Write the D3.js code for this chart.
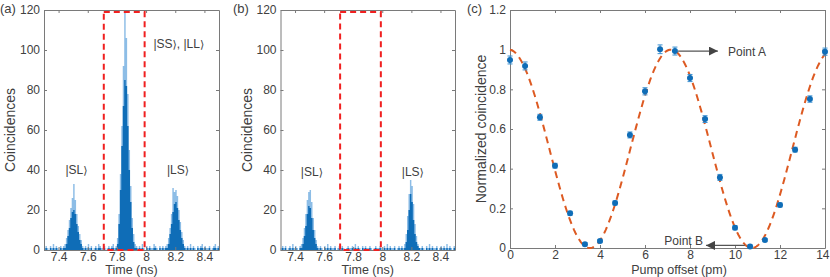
<!DOCTYPE html>
<html><head><meta charset="utf-8">
<script src="https://cdn.jsdelivr.net/npm/d3@7"></script>
<style>
body{margin:0;background:#fff}
text{font-family:"Liberation Sans",Arial,Helvetica,sans-serif}
</style>
</head><body>
<svg id="chart" width="830" height="277"></svg>
<script>
// ---------------- DATA ----------------
// Histogram bins (ns): bin i spans [binStart + i*binWidth, binStart + (i+1)*binWidth)
const binStart = 7.30;
const binWidth = 0.01;
const timeTicks = [7.4, 7.6, 7.8, 8.0, 8.2, 8.4];
const countTicks = [0, 20, 40, 60, 80, 100, 120];

// Panel (a): spiky upper envelope (light) and dense body (dark)
const countsLightA = [
  1,2,1,0,2,1,3,1,2,1,0,2,1,2,
  3,6,10,15,21,26,33,25,18,12,8,5,2,
  1,2,1,3,1,2,0,1,2,1,3,2,1,1,2,0,1,2,1,2,3,1,2,
  6,18,38,62,92,120,106,78,50,32,16,8,3,
  2,1,2,1,3,1,0,2,1,2,1,1,3,2,1,0,2,1,2,1,2,
  3,6,11,18,31,29,30,27,20,14,9,5,2,
  1,2,1,3,1,2,1,0,2,1,2,3,1,2,1,1,2,0,1,2,3,1,2
];
const countsDarkA = [
  0,1,0,0,1,0,1,0,1,0,0,1,0,1,
  1,3,7,11,16,19,20,18,13,9,5,3,1,
  0,1,0,1,0,1,0,0,1,0,1,1,0,0,1,0,0,1,0,1,1,0,1,
  3,13,30,52,72,85,82,62,40,24,11,4,1,
  1,0,1,0,1,0,0,1,0,1,0,0,1,1,0,0,1,0,1,0,1,
  1,3,8,13,19,23,24,21,15,10,6,3,1,
  0,1,0,1,0,1,0,0,1,0,1,1,0,1,0,0,1,0,0,1,1,0,1
];
// Panel (b)
const countsLightB = [
  1,2,1,2,0,1,2,1,3,1,2,1,0,2,
  3,6,11,18,25,29,30,24,16,10,5,2,
  1,2,1,0,2,1,3,1,2,1, 1,2,0,1,2,1,2,1,0,1, 2,1,1,2,1,3,1,2,1,0,
  2,1,2,1,1,2,1,0,1,2, 1,1,2,1,0,2,1,3,1,2, 1,1,2,0,1,2,1,2,1,
  3,8,17,28,35,32,23,13,7,3,1,
  1,2,1,0,2,1,3,1,2,1,1,2,0,1,2,1,2,1,3,1,2,1,0,2
];
const countsDarkB = [
  0,1,0,1,0,0,1,0,1,0,1,0,0,1,
  1,3,7,12,18,22,21,16,10,6,3,1,
  0,1,0,0,1,0,1,0,1,0, 0,1,0,0,1,0,1,0,0,0, 1,0,0,1,0,1,0,1,0,0,
  1,0,1,0,0,1,0,0,0,1, 0,0,1,0,0,1,0,1,0,1, 0,0,1,0,0,1,0,1,0,
  1,4,10,20,28,24,15,8,4,2,1,
  0,1,0,0,1,0,1,0,1,0,0,1,0,0,1,0,1,0,1,0,1,0,0,1
];
// Post-selection window (ns) and its height (counts)
const windowRange = [7.71, 7.99];
const windowTop = 119;

// Panel (c)
const pumpOffset = [0, 0.67, 1.33, 2, 2.67, 3.33, 4, 4.67, 5.33, 6, 6.67, 7.33, 8, 8.67, 9.33, 10, 10.67, 11.33, 12, 12.67, 13.33, 14];
const normCoinc  = [0.948, 0.918, 0.659, 0.415, 0.175, 0.019, 0.035, 0.227, 0.57, 0.79, 1.002, 0.993, 0.857, 0.65, 0.356, 0.102, 0.007, 0.04, 0.217, 0.496, 0.751, 0.99];
const normErr    = [0.02, 0.02, 0.015, 0.012, 0.01, 0.008, 0.008, 0.01, 0.015, 0.018, 0.022, 0.02, 0.018, 0.017, 0.015, 0.01, 0.008, 0.008, 0.01, 0.012, 0.016, 0.018];
const pumpTicks = [0, 2, 4, 6, 8, 10, 12, 14];
const normTicks = [0, 0.2, 0.4, 0.6, 0.8, 1.0, 1.2];
// Cosine fit: [offset, amplitude, period (pm), peak position (pm)]
const fitParams = [0.5, 0.5, 7.2, 7.15];

// ---------------- DRAW ----------------
const svg = d3.select("#chart");
const AX = "#7a7a7a", TX = "#404040";
const fmt1 = d => String(+d.toFixed(1));

function frame(g, x, y, xt, yt) {
  const [y0, y1] = y.range();
  const [x0, x1] = x.range();
  const st = s => { s.select(".domain").attr("stroke", AX); s.selectAll(".tick line").attr("stroke", AX);
    s.selectAll("text").attr("fill", TX).style("font-size", "12px"); };
  const bx = g.append("g").attr("transform", `translate(0,${y0})`)
    .call(d3.axisBottom(x).tickValues(xt).tickSizeInner(-3).tickSizeOuter(0).tickPadding(2).tickFormat(fmt1)).call(st);
  g.append("g").attr("transform", `translate(0,${y1})`)
    .call(d3.axisTop(x).tickValues(xt).tickSizeInner(-3).tickSizeOuter(0).tickFormat("")).call(st);
  g.append("g").attr("transform", `translate(${x0},0)`)
    .call(d3.axisLeft(y).tickValues(yt).tickSizeInner(-3).tickSizeOuter(0).tickPadding(4).tickFormat(fmt1)).call(st);
  g.append("g").attr("transform", `translate(${x1},0)`)
    .call(d3.axisRight(y).tickValues(yt).tickSizeInner(-3).tickSizeOuter(0).tickFormat("")).call(st);
  return bx;
}

// ket label: Latin letters in Liberation Sans, the closing angle bracket in DejaVu Sans
function ket(g, x, y, anchor, parts) {
  const t = g.append("text").attr("x", x).attr("y", y).attr("text-anchor", anchor)
    .attr("fill", TX).style("font-size", "12px");
  parts.forEach(p => {
    t.append("tspan").text(p[0]);
    t.append("tspan").style("font-family", "'DejaVu Sans'").style("font-size", "11px").text("⟩");
    if (p[1]) t.append("tspan").text(p[1]);
  });
}

function histPanel(x0, x1, light, dark, kets, tag, tagX) {
  const x = d3.scaleLinear().domain([7.3, 8.5]).range([x0, x1]);
  const y = d3.scaleLinear().domain([0, 120]).range([250, 10]);
  const g = svg.append("g");
  const series = vals => {
    const pts = vals.map((v, i) => [binStart + i * binWidth, v]);
    pts.push([binStart + vals.length * binWidth, vals[vals.length - 1]]);
    return pts;
  };
  const area = d3.area().curve(d3.curveStepAfter).x(d => x(d[0])).y0(y(0)).y1(d => y(d[1]));
  g.append("path").datum(series(light)).attr("fill", "#8dbde6").attr("d", area);
  g.append("path").datum(series(dark)).attr("fill", "#0f6db7").attr("d", area);
  frame(g, x, y, timeTicks, countTicks);
  g.append("rect").attr("x", x(windowRange[0])).attr("y", y(windowTop))
    .attr("width", x(windowRange[1]) - x(windowRange[0])).attr("height", y(0) - y(windowTop))
    .attr("fill", "none").attr("stroke", "#f02020").attr("stroke-width", 2).attr("stroke-dasharray", "6,4");
  kets.forEach(k => ket(g, x(k[0]), y(k[1]), k[2], k[3]));
  g.append("text").attr("x", (x0 + x1) / 2).attr("y", 274.3).attr("text-anchor", "middle")
    .attr("fill", TX).style("font-size", "12.5px").text("Time (ns)");
  g.append("text").attr("transform", `translate(${x0 - 29},130) rotate(-90)`).attr("text-anchor", "middle")
    .attr("fill", TX).style("font-size", "14px").text("Coincidences");
  g.append("text").attr("x", tagX).attr("y", 13).attr("fill", TX).style("font-size", "13px").text(tag);
}

histPanel(44, 219, countsLightA, countsDarkA,
  [[8.05, 101, "start", [["|SS", ", "], ["|LL", ""]]],
   [7.523, 38, "middle", [["|SL", ""]]],
   [8.219, 38, "middle", [["|LS", ""]]]], "(a)", 0);
histPanel(280.5, 455, countsLightB, countsDarkB,
  [[7.516, 37, "middle", [["|SL", ""]]],
   [8.21, 37, "middle", [["|LS", ""]]]], "(b)", 233);

// Panel (c)
{
  const x = d3.scaleLinear().domain([0, 14]).range([510, 825]);
  const y = d3.scaleLinear().domain([0, 1.2]).range([248, 10]);
  const g = svg.append("g");
  const bx = frame(g, x, y, pumpTicks, normTicks);
  // last tick label sits flush with the right edge, as in the reference
  bx.selectAll(".tick").filter(d => d === 14).select("text").attr("text-anchor", "end").attr("x", 4);
  const [c0, amp, per, pk] = fitParams;
  const fit = d3.range(0, 14.0001, 0.05).map(v => [v, c0 + amp * Math.cos(2 * Math.PI * (v - pk) / per)]);
  g.append("path").datum(fit).attr("fill", "none").attr("stroke", "#dd5a22").attr("stroke-width", 2)
    .attr("stroke-dasharray", "7,5").attr("d", d3.line().x(d => x(d[0])).y(d => y(d[1])));
  const pts = pumpOffset.map((p, i) => ({p, v: normCoinc[i], e: normErr[i]}));
  const eb = g.append("g").attr("stroke", "#3a8fd0").attr("stroke-width", 1);
  pts.forEach(d => {
    eb.append("line").attr("x1", x(d.p)).attr("x2", x(d.p)).attr("y1", y(d.v - d.e)).attr("y2", y(d.v + d.e));
    eb.append("line").attr("x1", x(d.p) - 2.5).attr("x2", x(d.p) + 2.5).attr("y1", y(d.v - d.e)).attr("y2", y(d.v - d.e));
    eb.append("line").attr("x1", x(d.p) - 2.5).attr("x2", x(d.p) + 2.5).attr("y1", y(d.v + d.e)).attr("y2", y(d.v + d.e));
  });
  g.selectAll("circle").data(pts).join("circle").attr("cx", d => x(d.p)).attr("cy", d => y(d.v))
    .attr("r", 3).attr("fill", "#0f6db7");
  // annotations
  const defs = svg.append("defs");
  defs.append("marker").attr("id", "ah").attr("viewBox", "0 0 10 10").attr("refX", 10).attr("refY", 5)
    .attr("markerWidth", 9).attr("markerHeight", 9).attr("markerUnits", "userSpaceOnUse").attr("orient", "auto")
    .append("path").attr("d", "M0,0 L10,5 L0,10 Z").attr("fill", "#444");
  g.append("line").attr("x1", x(7.47)).attr("x2", x(9.24)).attr("y1", y(0.993)).attr("y2", y(0.993))
    .attr("stroke", "#555").attr("stroke-width", 1.2).attr("marker-end", "url(#ah)");
  g.append("text").attr("x", x(9.69)).attr("y", y(0.993) + 4.5).attr("fill", TX).style("font-size", "12px").text("Point A");
  g.append("line").attr("x1", x(10.44)).attr("x2", x(8.71)).attr("y1", y(0.013)).attr("y2", y(0.013))
    .attr("stroke", "#555").attr("stroke-width", 1.2).attr("marker-end", "url(#ah)");
  g.append("text").attr("x", x(8.58)).attr("y", y(0.028) + 2.3).attr("text-anchor", "end").attr("fill", TX)
    .style("font-size", "12px").text("Point B");
  g.append("text").attr("x", 679).attr("y", 274.3).attr("text-anchor", "middle")
    .attr("fill", TX).style("font-size", "12.5px").text("Pump offset (pm)");
  g.append("text").attr("transform", `translate(486,129) rotate(-90)`).attr("text-anchor", "middle")
    .attr("fill", TX).style("font-size", "14px").text("Normalized coincidence");
  g.append("text").attr("x", 467).attr("y", 13).attr("fill", TX).style("font-size", "13px").text("(c)");
}
</script>
</body></html>
